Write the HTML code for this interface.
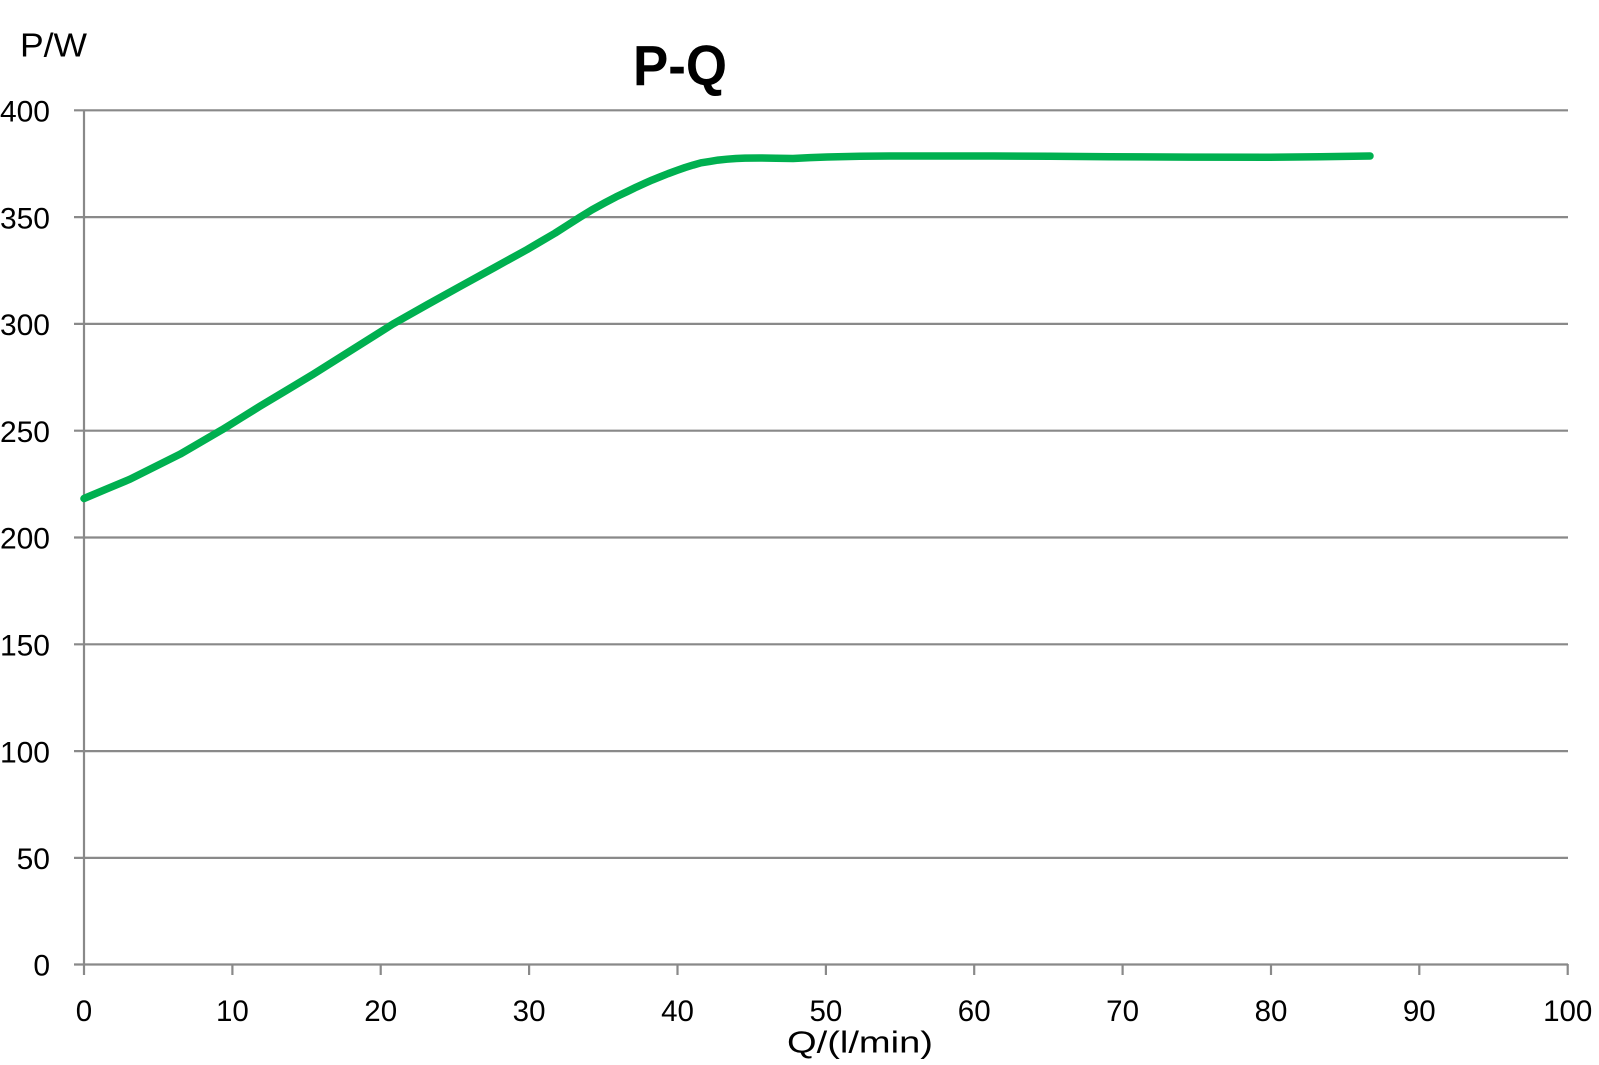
<!DOCTYPE html>
<html>
<head>
<meta charset="utf-8">
<style>
html,body{margin:0;padding:0;background:#fff;}
svg{display:block;}
</style>
</head>
<body>
<svg width="1599" height="1065" viewBox="0 0 1599 1065" xmlns="http://www.w3.org/2000/svg">
<rect width="1599" height="1065" fill="#fff"/>
<g stroke="#898989" stroke-width="2.2" fill="none">
<line x1="74" y1="110.3" x2="1568" y2="110.3"/>
<line x1="74" y1="217.1" x2="1568" y2="217.1"/>
<line x1="74" y1="323.9" x2="1568" y2="323.9"/>
<line x1="74" y1="430.7" x2="1568" y2="430.7"/>
<line x1="74" y1="537.5" x2="1568" y2="537.5"/>
<line x1="74" y1="644.3" x2="1568" y2="644.3"/>
<line x1="74" y1="751.1" x2="1568" y2="751.1"/>
<line x1="74" y1="857.9" x2="1568" y2="857.9"/>
<line x1="74" y1="964.5" x2="1568" y2="964.5"/>
<line x1="84" y1="110" x2="84" y2="975"/>
<line x1="232.4" y1="964" x2="232.4" y2="975"/>
<line x1="380.7" y1="964" x2="380.7" y2="975"/>
<line x1="529.1" y1="964" x2="529.1" y2="975"/>
<line x1="677.5" y1="964" x2="677.5" y2="975"/>
<line x1="825.9" y1="964" x2="825.9" y2="975"/>
<line x1="974.2" y1="964" x2="974.2" y2="975"/>
<line x1="1122.6" y1="964" x2="1122.6" y2="975"/>
<line x1="1271" y1="964" x2="1271" y2="975"/>
<line x1="1419.3" y1="964" x2="1419.3" y2="975"/>
<line x1="1567.7" y1="964" x2="1567.7" y2="975"/>
</g>
<polyline fill="none" stroke="#00B050" stroke-width="7.5" stroke-linejoin="round" stroke-linecap="round"
points="84,498.5 107,488.8 130,479.2 155,466.7 180,454.2 201,442 222,429.8 241,418 260,406.2 286,390.6 313,374.4 353,349.2 393,324 427,304.8 460,286.5 494,267.8 527,249.6 541,241.4 555,233.2 567,225.5 580,217.2 592,209.8 605,202.7 616,196.9 627,191.7 636,187.3 645,183.2 652,180.1 660,176.9 668,173.7 677,170.4 685,167.6 693,165.1 701,162.8 710,161.4 718,160.1 727,159.2 736,158.5 745,158.1 760,158 776,158.3 793,158.5 810,157.6 827,157 860,156.3 893,156 940,156 993,156 1050,156.3 1110,156.7 1190,157.1 1267,157.3 1320,156.8 1370,156"/>
<g font-family="'Liberation Sans', sans-serif" fill="#000">
<text x="20" y="56.7" font-size="33" textLength="67" lengthAdjust="spacingAndGlyphs">P/W</text>
<text x="633" y="85" font-size="57" font-weight="bold" textLength="94" lengthAdjust="spacingAndGlyphs">P-Q</text>
<g font-size="30" text-anchor="end">
<text x="50" y="121.5">400</text>
<text x="50" y="228.3">350</text>
<text x="50" y="335.1">300</text>
<text x="50" y="441.9">250</text>
<text x="50" y="548.7">200</text>
<text x="50" y="655.5">150</text>
<text x="50" y="762.3">100</text>
<text x="50" y="869.1">50</text>
<text x="50" y="975.5">0</text>
</g>
<g font-size="29.5" text-anchor="middle">
<text x="84" y="1021">0</text>
<text x="232.4" y="1021">10</text>
<text x="380.7" y="1021">20</text>
<text x="529.1" y="1021">30</text>
<text x="677.5" y="1021">40</text>
<text x="825.9" y="1021">50</text>
<text x="974.2" y="1021">60</text>
<text x="1122.6" y="1021">70</text>
<text x="1271" y="1021">80</text>
<text x="1419.3" y="1021">90</text>
<text x="1567.7" y="1021">100</text>
</g>
<text x="787" y="1052.7" font-size="31" textLength="146" lengthAdjust="spacingAndGlyphs">Q/(l/min)</text>
</g>
</svg>
</body>
</html>
